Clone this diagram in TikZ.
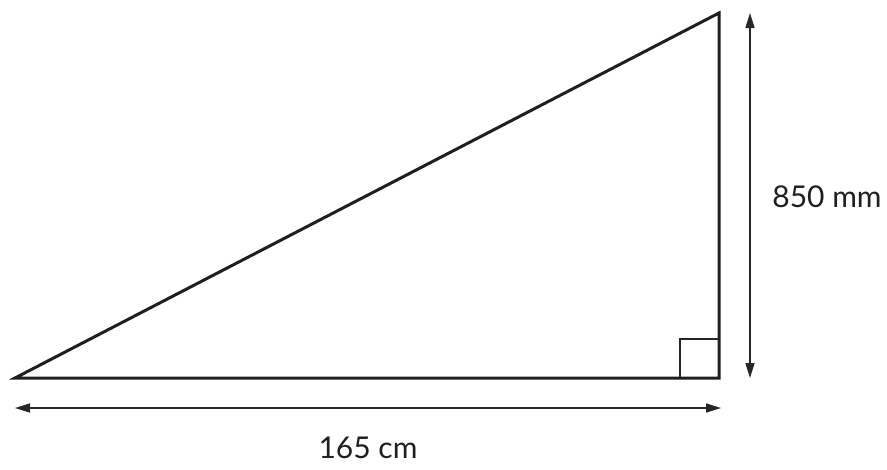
\documentclass[tikz,border=0pt]{standalone}
\usepackage{fontspec}
\setmainfont{Lato}
\usetikzlibrary{arrows.meta}
\begin{document}
\begin{tikzpicture}[x=1pt,y=-1pt,
  tri/.style={line width=3pt,line join=miter,draw=black!88},
  thin/.style={line width=1.2pt,draw=black!85},
  dim/.style={line width=1.5pt,draw=black!85,{Triangle[length=15pt,width=9pt]}-{Triangle[length=15pt,width=9pt]}},
  lbl/.style={font=\fontsize{30}{36}\selectfont,inner sep=0pt,text=black!88}]
\useasboundingbox (0,0) rectangle (887,469);
\coordinate (A) at (15,378);
\coordinate (B) at (719,378);
\coordinate (C) at (719,13);
\draw[tri] (A) -- (B) -- (C) -- cycle;
\coordinate (r1) at (680,378);
\coordinate (r2) at (680,339);
\coordinate (r3) at (719,339);
\draw[thin] (r1) -- (r2) -- (r3);
\coordinate (h1) at (15,408);
\coordinate (h2) at (721,408);
\draw[dim] (h1) -- (h2);
\coordinate (v1) at (750,13);
\coordinate (v2) at (750,378);
\draw[dim] (v1) -- (v2);
\node[lbl] (w) at (368,448) {165 cm};
\node[lbl] (h) at (827,197) {850 mm};
\end{tikzpicture}
\end{document}
